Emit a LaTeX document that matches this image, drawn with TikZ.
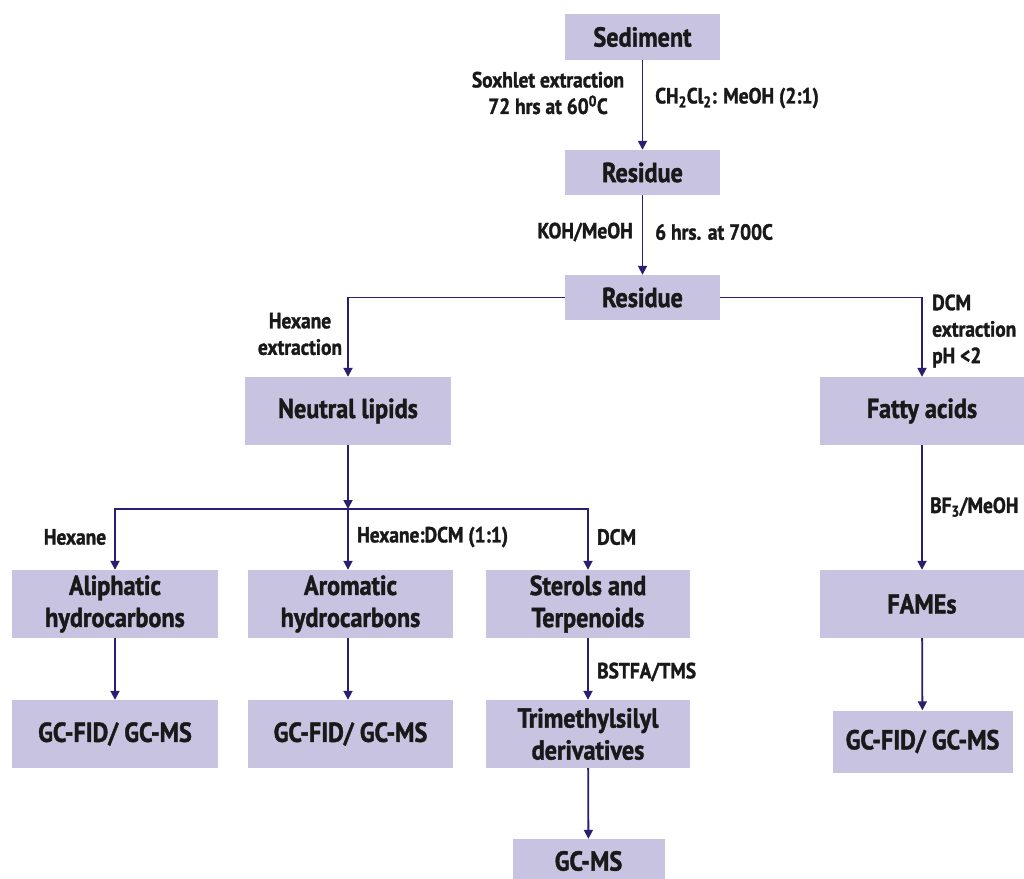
\documentclass[tikz,border=0pt]{standalone}
\usepackage{fontspec}
\setmainfont{PT Sans}[FakeStretch=0.88, BoldFeatures={FakeBold=1.4}]
\usetikzlibrary{arrows.meta}
\definecolor{boxfill}{RGB}{200,195,224}
\definecolor{linecol}{RGB}{42,30,112}
\definecolor{txtcol}{RGB}{25,25,25}
\tikzset{
  box/.style={fill=boxfill, inner sep=0pt, align=center, text=txtcol, font=\fontsize{27.5}{32}\selectfont\bfseries},
  lbl/.style={inner sep=0pt, text=txtcol, font=\fontsize{22}{26.5}\selectfont\bfseries},
  conn/.style={draw=linecol, line width=1.8pt},
  arr/.style={conn, -{Triangle[width=9pt,length=9pt]}},
}
\begin{document}
\begin{tikzpicture}[x=1pt,y=-1pt]
\useasboundingbox[fill=white] (0,0) rectangle (1024,878);
% boxes
\node[box, minimum width=155pt, minimum height=46pt] (sed) at (642.5,37) {Sediment};
\node[box, minimum width=155pt, minimum height=45pt] (res1) at (642.5,172.5) {Residue};
\node[box, minimum width=155pt, minimum height=45pt] (res2) at (642.5,297.5) {Residue};
\node[box, minimum width=206pt, minimum height=68pt] (neu) at (348,411) {Neutral lipids};
\node[box, minimum width=204pt, minimum height=68pt] (fat) at (922,411) {Fatty acids};
\node[box, minimum width=206pt, minimum height=68pt] (ali) at (115,604) {Aliphatic\\hydrocarbons};
\node[box, minimum width=205pt, minimum height=68pt] (aro) at (350.5,604) {Aromatic\\hydrocarbons};
\node[box, minimum width=204pt, minimum height=68pt] (ste) at (588,604) {Sterols and\\Terpenoids};
\node[box, minimum width=206pt, minimum height=68pt] (gc1) at (115,734) {GC-FID/ GC-MS};
\node[box, minimum width=205pt, minimum height=68pt] (gc2) at (350.5,734) {GC-FID/ GC-MS};
\node[box, minimum width=204pt, minimum height=68pt] (tms) at (588,734) {Trimethylsilyl\\derivatives};
\node[box, minimum width=152pt, minimum height=44pt] (gcms) at (588.5,861) {GC-MS};
\node[box, minimum width=204pt, minimum height=68pt] (fam) at (922,604) {FAMEs};
\node[box, minimum width=180pt, minimum height=62pt] (gc3) at (922.5,741.5) {GC-FID/ GC-MS};
% connectors
\coordinate (split) at (348,509);
\draw[arr] (sed) -- (res1);
\draw[arr] (res1) -- (res2);
\draw[arr] (res2.west) -| (neu.north);
\draw[arr] (res2.east) -| (fat.north);
\draw[arr] (neu.south) -- (split);
\draw[arr] (split) -| (ali.north);
\draw[arr] (split) -- (split |- aro.north);
\draw[arr] (split) -| (ste.north);
\draw[arr] (ali) -- (gc1);
\draw[arr] (aro.south -| split) -- (gc2.north -| split);
\draw[arr] (ste) -- (tms);
\draw[arr] (tms) -- (gcms);
\draw[arr] (fat) -- (fam);
\draw[arr] (fam) -- (gc3);
% labels
\node[lbl, align=center] (l1) at (548,93) {Soxhlet extraction\\72 hrs at 60\textsuperscript{0}C};
\node[lbl, anchor=west] (l2) at (655,98) {CH\textsubscript{2}Cl\textsubscript{2}: MeOH (2:1)};
\node[lbl, anchor=east] (l3) at (633,232) {KOH/MeOH};
\node[lbl, anchor=west] (l4) at (655,232) {6 hrs. at 700C};
\node[lbl, align=center] (l5) at (300,334) {Hexane\\extraction};
\node[lbl, align=left, anchor=west] (l6) at (932,331) {DCM\\extraction\\pH <2};
\node[lbl] (l7) at (75,537) {Hexane};
\node[lbl, anchor=west] (l8) at (357,537) {Hexane:DCM (1:1)};
\node[lbl, anchor=west] (l9) at (597,537) {DCM};
\node[lbl, anchor=west] (l10) at (597,672) {BSTFA/TMS};
\node[lbl, anchor=west] (l11) at (930,507) {BF\textsubscript{3}/MeOH};
\end{tikzpicture}
\end{document}
